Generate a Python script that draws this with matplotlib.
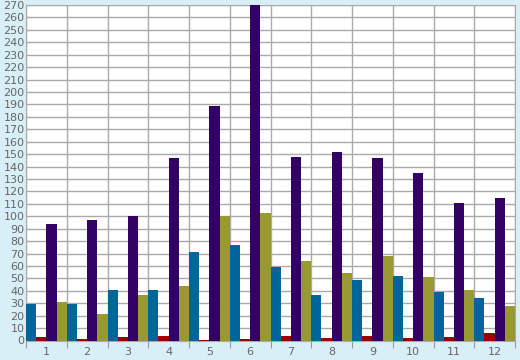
import matplotlib.pyplot as plt
import numpy as np

months = ['1', '2', '3', '4', '5', '6', '7', '8', '9', '10', '11', '12']
serie_azul = [29, 29, 41, 41, 71, 77, 59, 37, 49, 52, 39, 34]
serie_roja = [3, 1, 3, 4, 0.5, 1, 4, 2, 4, 2, 3, 6]
serie_morada = [94, 97, 100, 147, 189, 270, 148, 152, 147, 135, 111, 115]
serie_oliva = [31, 21, 37, 44, 100, 103, 64, 54, 68, 51, 41, 28]

colores = ['#006699', '#990000', '#330066', '#999933']
series = [serie_azul, serie_roja, serie_morada, serie_oliva]

fig = plt.figure(figsize=(5.2, 3.6), dpi=100, facecolor='#d9eff7')
ax = fig.add_axes([26/520, 19.5/360, 489/520, 335.5/360])
ax.set_facecolor('white')

x = np.arange(len(months))
w = 0.25
for j, (vals, c) in enumerate(zip(series, colores)):
    ax.bar(x + j*w, vals, width=w, align='edge', color=c, zorder=3, linewidth=0)

ax.set_xlim(0, 12)
ax.set_ylim(0, 270)
ax.set_yticks(np.arange(0, 271, 10))
ax.set_xticks(np.arange(0, 13), minor=False)
ax.set_xticklabels([])
ax.set_xticks(x + 0.5, minor=True)
ax.set_xticklabels(months, minor=True)

ax.grid(True, which='major', color='#aaaaaa', linewidth=1, zorder=0)
ax.tick_params(axis='x', which='major', length=5, color='#999999', direction='out')
ax.tick_params(axis='x', which='minor', length=0, pad=5, labelsize=8, labelcolor='#666666')
ax.tick_params(axis='y', length=0, pad=1, labelsize=8, labelcolor='#666666')
for s in ax.spines.values():
    s.set_color('#aaaaaa')

fig.savefig('out.png', dpi=100, facecolor=fig.get_facecolor())
